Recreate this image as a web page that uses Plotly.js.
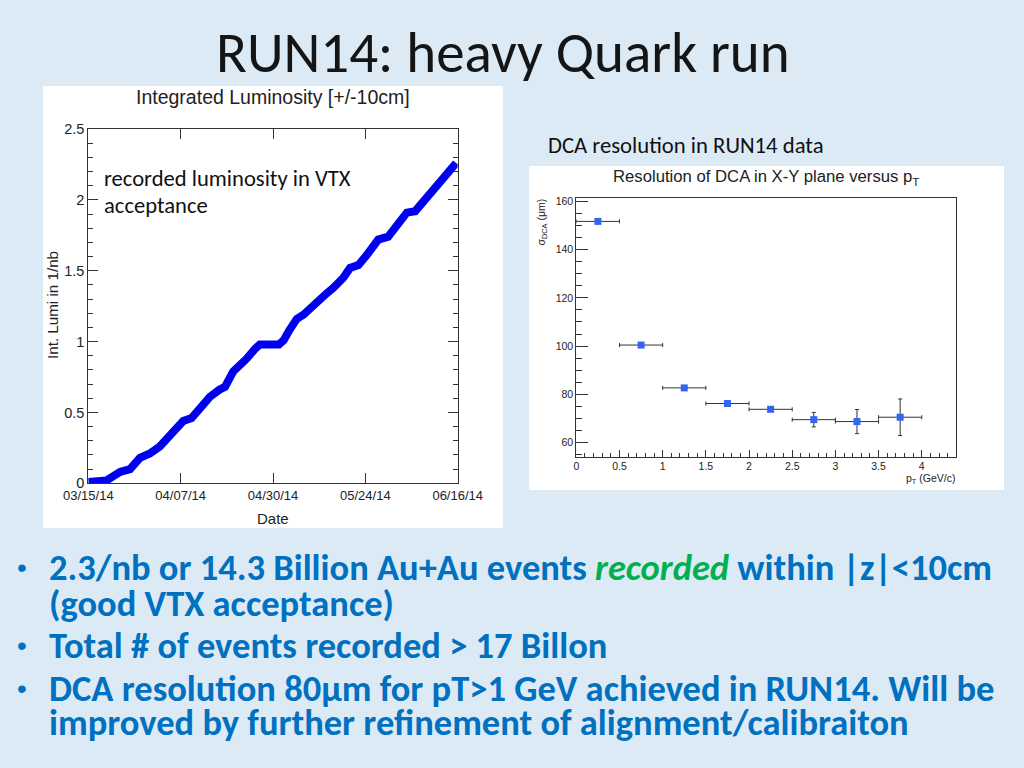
<!DOCTYPE html>
<html><head><meta charset="utf-8">
<script src="https://cdn.plot.ly/plotly-3.0.1.min.js"></script>
<style>html,body{margin:0;padding:0;background:#dceaf5;}#chart{width:1024px;height:768px;}</style>
</head><body><div id="chart"></div>
<script>
// ---- Left chart: integrated luminosity (x = days since 03/15/14) ----
const lumiDays = [0, 4.6, 8, 10.5, 13, 15.5, 18, 21.4, 23.9, 26, 28, 30.6, 33, 34.4, 36.5, 38.2, 39.9, 42, 43.2, 48.0, 49.2, 50.6, 52.5, 54.2, 56.6, 58.3, 60, 61.7, 64.2, 65.9, 68, 70.1, 71.8, 73, 75.5, 76.8, 78.9, 80.2, 82.3, 84, 85.6, 87.7, 89.4, 91.1, 92.6];
const lumiValues = [0.01, 0.02, 0.08, 0.10, 0.18, 0.21, 0.26, 0.36, 0.44, 0.46, 0.52, 0.61, 0.66, 0.68, 0.79, 0.83, 0.88, 0.95, 0.98, 0.98, 1.01, 1.08, 1.16, 1.19, 1.26, 1.30, 1.34, 1.38, 1.45, 1.52, 1.54, 1.61, 1.67, 1.72, 1.74, 1.79, 1.87, 1.91, 1.92, 1.98, 2.03, 2.09, 2.16, 2.21, 2.26];
const dateTickDays = [0, 23.25, 46.5, 69.75, 93];
const dateTickLabels = ['03/15/14', '04/07/14', '04/30/14', '05/24/14', '06/16/14'];

// ---- Right chart: DCA resolution vs pT ----
const ptCenters = [0.25, 0.75, 1.25, 1.75, 2.25, 2.75, 3.25, 3.75];
const ptHalfWidths = [0.25, 0.25, 0.25, 0.25, 0.25, 0.25, 0.25, 0.25];
const dcaSigma = [151.8, 100.4, 82.6, 76.1, 73.7, 69.4, 68.6, 70.4];
const dcaErrors = [0.5, 0.5, 0.6, 0.7, 0.8, 3.0, 5.0, 7.6];

// ---- Slide text ----
const slideTitle = 'RUN14: heavy Quark run';
const bulletLines = [
  '2.3/nb or 14.3 Billion Au+Au events <i><span style="color:#00b050">recorded</span></i> within |z|&lt;10cm',
  '(good VTX acceptance)',
  'Total # of events recorded &gt; 17 Billon',
  'DCA resolution 80μm for pT&gt;1 GeV achieved in RUN14. Will be',
  'improved by further refinement of alignment/calibraiton'
];
const bulletLineY = [567, 603, 645, 688, 722];
const bulletMarkY = [567, 645, 688];

const W = 1024, H = 768;
const px = x => x / W;
const py = y => 1 - y / H;

const calibri = "Carlito, 'Open Sans', sans-serif";
const rootFont = "'Liberation Sans', Arial, sans-serif";
const axCol = '#333';

const traces = [
  {
    x: lumiDays, y: lumiValues, xaxis: 'x', yaxis: 'y',
    type: 'scatter', mode: 'lines',
    line: {color: '#0000f0', width: 8},
    hoverinfo: 'skip'
  },
  {
    x: ptCenters, y: dcaSigma, xaxis: 'x2', yaxis: 'y2',
    type: 'scatter', mode: 'markers',
    marker: {symbol: 'square', size: 7, color: '#3366ee'},
    error_x: {type: 'data', array: ptHalfWidths, color: '#333', thickness: 1, width: 2},
    error_y: {type: 'data', array: dcaErrors, color: '#333', thickness: 1, width: 2},
    cliponaxis: false,
    hoverinfo: 'skip'
  }
];

const annotations = [];
function ann(text, x, y, opts) {
  annotations.push(Object.assign({
    text: text, x: px(x), y: py(y), xref: 'paper', yref: 'paper',
    showarrow: false, xanchor: 'center', yanchor: 'middle'
  }, opts));
}
// slide title
ann(slideTitle, 503, 52, {font: {family: calibri, size: 57, color: '#151515'}});
// left chart texts
ann('Integrated Luminosity [+/-10cm]', 273, 97, {font: {family: rootFont, size: 19.5, color: '#222'}});
ann('Int. Lumi in 1/nb', 52, 305, {textangle: -90, font: {family: rootFont, size: 15.2, color: '#222'}});
ann('Date', 273, 518, {font: {family: rootFont, size: 15, color: '#222'}});
ann('recorded luminosity in VTX', 102, 178, {xanchor: 'left', font: {family: calibri, size: 22.6, color: '#111'}});
ann('acceptance', 102, 205, {xanchor: 'left', font: {family: calibri, size: 22.6, color: '#111'}});
// right chart texts
ann('DCA resolution in RUN14 data', 546, 145, {xanchor: 'left', font: {family: calibri, size: 22.7, color: '#111'}});
ann('Resolution of DCA in X-Y plane versus p<sub>T</sub>', 766, 177, {font: {family: rootFont, size: 16.7, color: '#222'}});
ann('σ<sub>DCA</sub> (μm)', 541, 197, {textangle: -90, yanchor: 'top', font: {family: rootFont, size: 10.5, color: '#222'}});
ann('p<sub>T</sub> (GeV/c)', 957, 479, {xanchor: 'right', font: {family: rootFont, size: 10.5, color: '#222'}});
// bullets
bulletMarkY.forEach(y => ann('•', 22, y, {font: {family: 'Liberation Sans', size: 28, color: '#0070c0'}}));
bulletLines.forEach((t, i) => ann('<b>' + t + '</b>', 47, bulletLineY[i], {xanchor: 'left', font: {family: calibri, size: 36.5, color: '#0070c0'}}));

const layout = {
  width: W, height: H,
  margin: {l: 0, r: 0, t: 0, b: 0},
  paper_bgcolor: '#dceaf5',
  plot_bgcolor: 'white',
  showlegend: false,
  shapes: [
    {type: 'rect', xref: 'paper', yref: 'paper', x0: px(43), x1: px(503), y0: py(528), y1: py(86), fillcolor: 'white', line: {width: 0}, layer: 'below'},
    {type: 'rect', xref: 'paper', yref: 'paper', x0: px(529), x1: px(1004), y0: py(490), y1: py(166), fillcolor: 'white', line: {width: 0}, layer: 'below'}
  ],
  xaxis: {
    domain: [px(88.3), px(457.7)], anchor: 'y', range: [0, 93],
    tickmode: 'array', tickvals: dateTickDays, ticktext: dateTickLabels,
    ticks: 'inside', ticklen: 10, tickcolor: axCol, showline: true, linecolor: axCol, mirror: 'ticks',
    showgrid: false, zeroline: false, tickfont: {family: rootFont, size: 13, color: '#222'}
  },
  yaxis: {
    domain: [py(483.3), py(129)], anchor: 'x', range: [0, 2.5],
    tick0: 0, dtick: 0.5, ticks: 'inside', ticklen: 10, tickcolor: axCol,
    minor: {dtick: 0.1, ticks: 'inside', ticklen: 5, tickcolor: axCol, showgrid: false},
    showline: true, linecolor: axCol, mirror: 'ticks', showgrid: false, zeroline: false,
    tickfont: {family: rootFont, size: 14.5, color: '#222'}
  },
  xaxis2: {
    domain: [px(576.3), px(956.3)], anchor: 'y2', range: [0, 4.4],
    tick0: 0, dtick: 0.5, ticks: 'inside', ticklen: 7, tickcolor: axCol,
    minor: {dtick: 0.1, ticks: 'inside', ticklen: 4, tickcolor: axCol, showgrid: false},
    showline: true, linecolor: axCol, mirror: true, showgrid: false, zeroline: false,
    tickfont: {family: rootFont, size: 10.5, color: '#222'}
  },
  yaxis2: {
    domain: [py(456.7), py(198.3)], anchor: 'x2', range: [54, 161.4],
    tick0: 0, dtick: 20, ticks: 'inside', ticklen: 12, tickcolor: axCol,
    minor: {dtick: 5, ticks: 'inside', ticklen: 6, tickcolor: axCol, showgrid: false},
    showline: true, linecolor: axCol, mirror: true, showgrid: false, zeroline: false,
    tickfont: {family: rootFont, size: 10.5, color: '#222'}
  },
  annotations: annotations
};

Plotly.newPlot('chart', traces, layout, {staticPlot: true, displayModeBar: false});
</script>
</body></html>
